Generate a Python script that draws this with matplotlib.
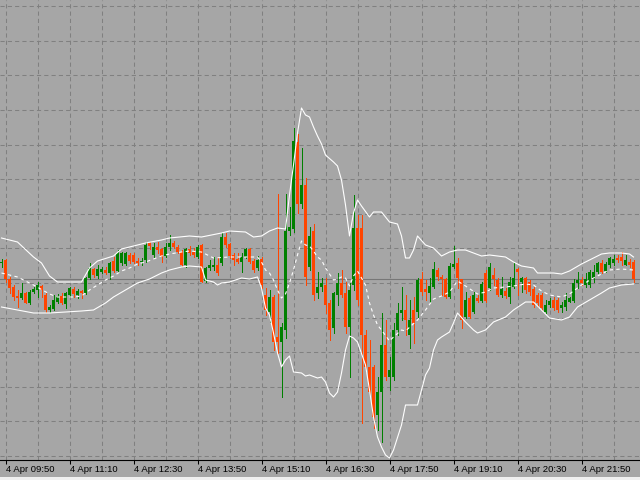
import matplotlib
matplotlib.use('Agg')
import matplotlib.pyplot as plt
import matplotlib.transforms as mtransforms
from matplotlib.patches import Rectangle
import numpy as np
import pandas as pd

# ===== DATA (5 min candles, price in points) =====
opens = [197, 200, 181, 173, 164, 162, 167, 157, 168, 170, 174, 165, 150, 151, 158, 164, 156, 165, 171, 165,
         169, 167, 182, 191, 184, 188, 190, 187, 199, 189, 197, 196, 205, 205, 199, 198, 200, 217, 205, 213,
         211, 204, 213, 217, 213, 208, 195, 211, 208, 203, 215, 179, 192, 193, 195, 197, 223, 216, 205, 201,
         198, 203, 211, 199, 192, 201, 165, 148, 163, 123, 118, 130, 229, 231, 318, 256, 275, 193, 229, 167,
         173, 175, 157, 132, 165, 177, 167, 133, 175, 232, 232, 125, 93, 93, 45, 68, 115, 83, 83, 130,
         147, 150, 125, 150, 148, 181, 171, 167, 173, 190, 183, 181, 163, 193, 197, 181, 143, 162, 148, 162,
         159, 187, 172, 185, 180, 165, 169, 163, 173, 191, 178, 182, 178, 171, 165, 165, 148, 155, 160, 160,
         152, 153, 158, 159, 177, 180, 175, 175, 181, 188, 197, 189, 195, 197, 202, 203, 195, 198, 198]
highs = [201, 201, 183, 175, 170, 177, 168, 170, 173, 178, 175, 167, 155, 165, 166, 167, 168, 173, 173, 171,
         170, 183, 197, 192, 195, 193, 193, 198, 203, 210, 208, 208, 207, 207, 202, 202, 218, 218, 217, 218,
         212, 217, 225, 219, 215, 210, 212, 214, 212, 215, 216, 193, 200, 203, 203, 227, 227, 217, 207, 207,
         207, 212, 212, 201, 204, 203, 172, 170, 165, 266, 137, 266, 253, 332, 326, 312, 282, 233, 236, 188,
         182, 182, 160, 168, 187, 190, 178, 177, 265, 245, 245, 130, 120, 95, 83, 147, 140, 103, 137, 157,
         173, 165, 160, 163, 182, 188, 180, 182, 198, 192, 185, 182, 197, 214, 202, 181, 168, 164, 168, 165,
         178, 190, 197, 192, 182, 183, 172, 183, 198, 192, 183, 183, 180, 173, 167, 167, 160, 162, 163, 162,
         158, 167, 163, 181, 188, 183, 187, 190, 195, 198, 200, 198, 203, 205, 205, 208, 205, 201, 200]
lows = [193, 178, 167, 160, 153, 161, 157, 156, 167, 163, 163, 148, 148, 150, 157, 156, 152, 163, 163, 162,
        162, 166, 181, 183, 182, 187, 186, 181, 188, 188, 195, 195, 197, 197, 195, 195, 198, 211, 203, 207,
        198, 203, 210, 212, 207, 194, 193, 205, 203, 202, 178, 178, 190, 190, 185, 195, 213, 202, 195, 197,
        188, 202, 197, 188, 190, 172, 145, 138, 110, 107, 63, 122, 225, 228, 247, 252, 175, 190, 160, 162,
        169, 147, 120, 127, 155, 163, 127, 83, 170, 155, 37, 88, 65, 32, 30, 18, 80, 70, 80, 125,
        140, 125, 112, 117, 143, 165, 160, 158, 172, 180, 165, 162, 162, 192, 172, 132, 142, 142, 147, 158,
        158, 158, 170, 175, 164, 163, 162, 157, 172, 165, 168, 167, 165, 153, 153, 150, 147, 153, 150, 148,
        148, 150, 158, 158, 172, 175, 173, 173, 178, 187, 187, 188, 193, 195, 198, 195, 195, 193, 178]
closes = [198, 181, 172, 163, 162, 167, 157, 168, 171, 175, 170, 150, 153, 160, 164, 157, 167, 172, 166, 169,
          167, 182, 192, 185, 191, 191, 187, 197, 189, 207, 207, 207, 199, 198, 197, 199, 215, 214, 213, 210,
          203, 213, 217, 213, 208, 195, 211, 207, 205, 213, 178, 192, 195, 195, 187, 223, 215, 204, 200, 198,
          203, 211, 198, 190, 200, 175, 150, 163, 118, 118, 133, 229, 233, 319, 256, 275, 183, 224, 165, 173,
          177, 155, 130, 167, 177, 165, 133, 170, 232, 160, 125, 93, 68, 43, 68, 115, 83, 90, 130, 147,
          150, 140, 140, 137, 180, 168, 168, 174, 191, 183, 181, 163, 194, 196, 182, 140, 160, 143, 165, 159,
          176, 159, 193, 181, 165, 171, 164, 178, 182, 188, 182, 170, 168, 155, 157, 152, 155, 159, 152, 150,
          155, 160, 162, 177, 180, 177, 181, 188, 188, 197, 188, 196, 202, 201, 200, 199, 200, 195, 181]

# Bollinger bands, read at selected candles
upper_idx = [0, 4, 8, 10, 12, 14, 20, 22, 24, 28, 30, 32, 36, 40, 42, 47, 50, 55, 57, 61,
             63, 65, 67, 69, 71, 72, 73, 74, 75, 76, 77, 78, 79, 80, 81, 83, 84, 85, 86, 87,
             88, 89, 90, 92, 93, 95, 97, 99, 100, 101, 102, 103, 104, 106, 108, 110, 112, 114, 116, 120,
             122, 126, 128, 130, 133, 134, 138, 140, 142, 145, 148, 150, 152, 155, 157, 158]
upper_val = [222, 218, 203, 197, 184, 178, 178, 192, 199, 204, 211, 213, 217, 220, 222, 224, 223, 227, 229, 228,
             223, 224, 229, 232, 231, 265, 295, 327, 352, 345, 343, 333, 324, 316, 305, 298, 294, 280, 255, 224,
             247, 260, 254, 243, 248, 248, 238, 236, 224, 202, 202, 210, 224, 215, 212, 204, 208, 210, 210, 204,
             205, 203, 198, 194, 192, 187, 187, 186, 189, 196, 202, 206, 207, 207, 206, 203]
lower_idx = [0, 4, 8, 12, 16, 20, 23, 26, 28, 31, 34, 37, 40, 42, 45, 47, 50, 51, 53, 54,
             55, 57, 60, 62, 64, 65, 66, 67, 68, 69, 70, 71, 72, 73, 75, 76, 77, 79, 80, 81,
             82, 83, 84, 85, 86, 87, 88, 89, 91, 92, 93, 94, 95, 96, 97, 98, 100, 101, 104, 105,
             106, 107, 108, 109, 110, 112, 113, 114, 116, 118, 119, 121, 123, 126, 128, 131, 133, 135, 137, 140,
             142, 144, 147, 150, 152, 155, 158]
lower_val = [153, 150, 147, 147, 148, 149, 150, 157, 163, 170, 177, 181, 187, 190, 193, 194, 193, 180, 178, 175,
             177, 178, 182, 181, 183, 172, 152, 145, 127, 107, 93, 100, 104, 88, 87, 84, 85, 82, 83, 78,
             67, 63, 68, 87, 110, 124, 122, 118, 95, 70, 43, 23, 13, 5, 2, 10, 35, 55, 55, 70,
             85, 92, 110, 120, 123, 128, 137, 147, 138, 130, 127, 130, 138, 143, 150, 158, 158, 150, 142, 140,
             143, 153, 160, 167, 172, 175, 176]
mid_idx = [0, 4, 8, 12, 14, 18, 20, 22, 24, 26, 28, 30, 32, 34, 36, 38, 40, 42, 45, 47,
           50, 53, 57, 62, 64, 65, 66, 67, 68, 69, 70, 71, 72, 73, 74, 75, 76, 77, 78, 79,
           80, 81, 83, 84, 85, 86, 87, 88, 89, 91, 92, 93, 94, 95, 97, 98, 100, 101, 104, 106,
           108, 110, 112, 114, 116, 119, 121, 123, 126, 128, 131, 133, 135, 137, 140, 142, 145, 148, 150, 152,
           155, 158]
mid_val = [187, 183, 175, 166, 163, 163, 164, 170, 175, 180, 184, 189, 192, 196, 198, 201, 204, 206, 208, 209,
           208, 202, 203, 203, 203, 198, 190, 187, 180, 170, 162, 166, 177, 190, 205, 219, 215, 214, 209, 203,
           200, 192, 180, 181, 183, 182, 174, 184, 189, 175, 157, 145, 135, 130, 119, 123, 130, 129, 140, 150,
           161, 164, 168, 179, 174, 166, 168, 172, 173, 174, 176, 175, 169, 165, 163, 166, 175, 182, 186, 190,
           191, 190]

start_time = '2024-04-04 09:45'
label_every = 16
grid_every = 8

# ===== COLORS =====
BG = '#a6a6a6'
GRID = '#808080'
BULL = '#008000'
BEAR = '#ff4500'
BAND = '#ffffff'

fig = plt.figure(figsize=(6.4, 4.8), dpi=100, facecolor=BG)
ax = fig.add_axes([0, 20 / 480, 1, 460 / 480])
ax.set_facecolor(BG)

o = np.array(opens, dtype=float)
h = np.array(highs, dtype=float)
l = np.array(lows, dtype=float)
c = np.array(closes, dtype=float)
n = len(o)
idx = np.arange(n)
colors = np.where(c >= o, BULL, BEAR)

# wicks + bodies
ax.vlines(idx, l, h, colors=colors, linewidth=0.72, antialiased=False, zorder=3)
body_bottom = np.minimum(o, c)
body_height = np.maximum(np.abs(c - o), 1)
ax.bar(idx, body_height, bottom=body_bottom, width=0.75, color=colors,
       linewidth=0, antialiased=False, zorder=3)

# bands
ax.plot(upper_idx, upper_val, color=BAND, lw=0.8, zorder=4)
ax.plot(lower_idx, lower_val, color=BAND, lw=0.8, zorder=4)
ax.plot(mid_idx, mid_val, color=BAND, lw=0.8, linestyle=(0, (3, 3)), zorder=4)

# current price line
ax.axhline(c[-1], color='#777777', lw=0.8, zorder=2)

ax.set_xlim(-0.375, n + 0.625)
ax.set_ylim(0, 460)

# x ticks / labels
times = pd.date_range(start_time, periods=n, freq='5min')
major = np.arange(1, n, label_every)
minor = np.arange(1 + grid_every, n, label_every)
ax.set_xticks(major)
ax.set_xticks(minor, minor=True)
ax.set_xticklabels([f"{t.day} {t.strftime('%b %H:%M')}" for t in times[major]],
                   ha='left', fontsize=6.8, family='Liberation Sans', color='black')
shift = mtransforms.ScaledTranslation(-1 / 100, 0, fig.dpi_scale_trans)
for lab in ax.get_xticklabels():
    lab.set_transform(lab.get_transform() + shift)
ax.tick_params(axis='x', which='major', direction='out', length=2.9, width=0.75,
               color='black', pad=1)
ax.tick_params(axis='x', which='minor', length=0)

ax.set_yticks(np.arange(4, 460, 34.6))
ax.tick_params(axis='y', left=False, labelleft=False)

ax.grid(True, which='both', color=GRID, linestyle=(0, (4, 3)), linewidth=0.75, zorder=1)
ax.set_axisbelow(True)

for side in ['top', 'right', 'left']:
    ax.spines[side].set_visible(False)
ax.spines['bottom'].set_color('black')
ax.spines['bottom'].set_linewidth(0.8)

fig.patches.append(Rectangle((0, 0), 1, 3 / 480, transform=fig.transFigure,
                             facecolor='#f0f0f0', edgecolor='none'))

plt.savefig('out.png', dpi=100, facecolor=BG)
plt.close()
